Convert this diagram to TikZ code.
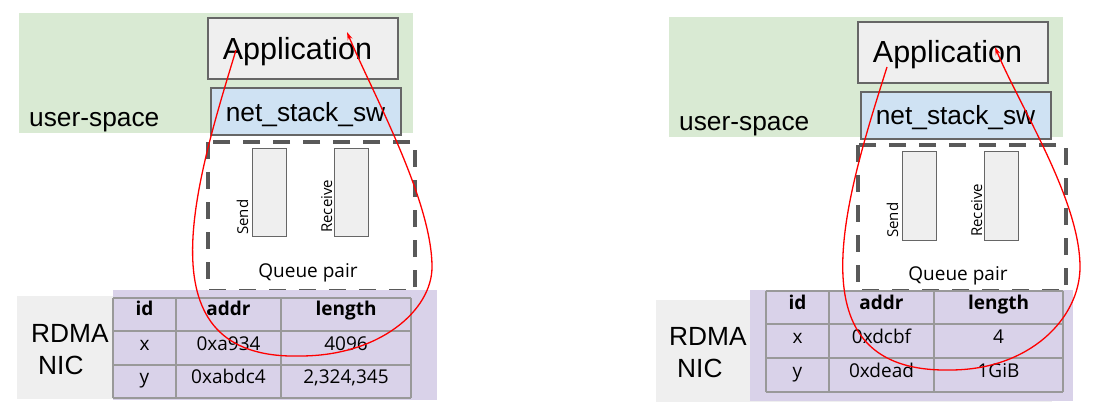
\documentclass[tikz,border=0pt]{standalone}
\usepackage{fontspec}
\setmainfont{Liberation Sans}
\newfontfamily\osans{Open Sans}
\usetikzlibrary{arrows.meta}
\definecolor{ugreen}{HTML}{D9EAD3}
\definecolor{nblue}{HTML}{CFE2F3}
\definecolor{boxgray}{HTML}{EFEFEF}
\definecolor{nicpurple}{HTML}{D9D2E9}
\definecolor{edgegray}{HTML}{666666}
\definecolor{tablegray}{HTML}{999999}
\definecolor{dashgray}{HTML}{595959}
\tikzset{
  greenbg/.style={fill=ugreen},
  nicbg/.style={fill=boxgray},
  purplebg/.style={fill=nicpurple},
  appbox/.style={draw=edgegray, fill=boxgray, line width=1.2pt, minimum width=190, minimum height=61, inner sep=0},
  netbox/.style={draw=edgegray, fill=nblue, line width=1.2pt, minimum width=190, minimum height=47, inner sep=0},
  qbox/.style={draw=edgegray, fill=boxgray, line width=1pt, minimum width=34, minimum height=88, inner sep=0},
  qpdash/.style={draw=dashgray, line width=4pt, dash pattern=on 17pt off 13pt},
  tgrid/.style={draw=tablegray, line width=1.7pt},
  apptext/.style={font=\fontsize{30.5}{34}\selectfont, inner sep=0, anchor=base},
  bigtext/.style={font=\fontsize{26.3}{30}\selectfont, inner sep=0, anchor=base west},
  midtext/.style={font=\fontsize{26.3}{30}\selectfont, inner sep=0, anchor=base},
  qtext/.style={font=\osans\fontsize{15}{18}\selectfont, inner sep=0, anchor=base west, rotate=90},
  qptext/.style={font=\osans\fontsize{19}{22}\selectfont, inner sep=0, anchor=base},
  cell/.style={font=\osans\fontsize{19}{22}\selectfont, inner sep=0, anchor=base},
  hcell/.style={font=\osans\bfseries\fontsize{19}{22}\selectfont, inner sep=0, anchor=base},
  flow/.style={draw=red, line width=1.3pt, -{Stealth[length=8pt,width=5pt]}},
}
\begin{document}
\begin{tikzpicture}[x=1pt,y=-1pt]
\useasboundingbox (0,0) rectangle (1094,414);
% ================= LEFT PANEL =================
\fill[greenbg] (19,13) rectangle (413,133);
\node[appbox] (appL) at (303,48.5) {};
\node[netbox] (netL) at (306,111.5) {};
\node[apptext] (appLt) at (297.5,60) {Application};
\node[midtext] (netLt) at (305.5,122) {net\_stack\_sw};
\node[bigtext] (usL) at (29,127) {user-space};
\draw[qpdash] (208,142) rectangle (415,291);
\node[qbox] (sendL) at (269,192.5) {};
\node[qbox] (recvL) at (351,192.5) {};
\node[qtext] (sendLt) at (248,235) {Send};
\node[qtext] (recvLt) at (332,233) {Receive};
\node[qptext] (qpL) at (308,277) {Queue pair};
\fill[nicbg] (17,296) rectangle (150,399);
\fill[purplebg] (113,290) rectangle (437,400);
\foreach \yy in {298,331,365,398} \draw[tgrid] (113,\yy) -- (411,\yy);
\foreach \xx in {113,176,281,411} \draw[tgrid] (\xx,298) -- (\xx,398);
\node[bigtext] (rdmaL) at (31,342) {RDMA};
\node[bigtext] (nicL) at (38,374) {NIC};
\node[hcell] (hidL) at (144.5,315) {id};
\node[hcell] (haddrL) at (228.5,315) {addr};
\node[hcell] (hlenL) at (346,315) {length};
\node[cell] (x1L) at (144.5,350) {x};
\node[cell] (x2L) at (228.5,350) {0xa934};
\node[cell] (x3L) at (346,350) {4096};
\node[cell] (y1L) at (144.5,383) {y};
\node[cell] (y2L) at (228.5,383) {0xabdc4};
\node[cell] (y3L) at (346,383) {2,324,345};
\coordinate (stL) at (236,50);
\coordinate (btL) at (300,356);
\coordinate (rtL) at (432,267);
\coordinate (enL) at (347,32);
\draw[flow] (stL) .. controls (195,185) and (140,360) .. (btL)
  .. controls (380,356) and (432,310) .. (rtL)
  .. controls (432,200) and (372,92) .. (enL);
% ================= RIGHT PANEL =================
\fill[greenbg] (669,17) rectangle (1063,137);
\node[appbox] (appR) at (953,52.5) {};
\node[netbox] (netR) at (956,115.5) {};
\node[apptext] (appRt) at (947.5,63) {Application};
\node[midtext] (netRt) at (955.5,125) {net\_stack\_sw};
\node[bigtext] (usR) at (679,131) {user-space};
\draw[qpdash] (858,145) rectangle (1066,291);
\node[qbox] (sendR) at (919,196) {};
\node[qbox] (recvR) at (1001,196) {};
\node[qtext] (sendRt) at (898,238) {Send};
\node[qtext] (recvRt) at (982,237) {Receive};
\node[qptext] (qpR) at (958,280) {Queue pair};
\fill[nicbg] (656,300) rectangle (1052,402);
\fill[purplebg] (750,290) rectangle (1073,401);
\foreach \yy in {291,324,358,392} \draw[tgrid] (766,\yy) -- (1063,\yy);
\foreach \xx in {766,829,934,1063} \draw[tgrid] (\xx,291) -- (\xx,392);
\node[bigtext] (rdmaR) at (669,345) {RDMA};
\node[bigtext] (nicR) at (677,377) {NIC};
\node[hcell] (hidR) at (797.5,309) {id};
\node[hcell] (haddrR) at (881.5,309) {addr};
\node[hcell] (hlenR) at (998.5,309) {length};
\node[cell] (x1R) at (797.5,343) {x};
\node[cell] (x2R) at (881.5,343) {0xdcbf};
\node[cell] (x3R) at (998.5,343) {4};
\node[cell] (y1R) at (797.5,377) {y};
\node[cell] (y2R) at (881.5,377) {0xdead};
\node[cell] (y3R) at (998.5,377) {1GiB};
\coordinate (stR) at (887,67);
\coordinate (btR) at (950,370);
\coordinate (rtR) at (1080,267);
\coordinate (enR) at (995,47);
\draw[flow] (stR) .. controls (845,200) and (790,373) .. (btR)
  .. controls (1030,370) and (1080,318) .. (rtR)
  .. controls (1080,200) and (1020,107) .. (enR);
\end{tikzpicture}
\end{document}
